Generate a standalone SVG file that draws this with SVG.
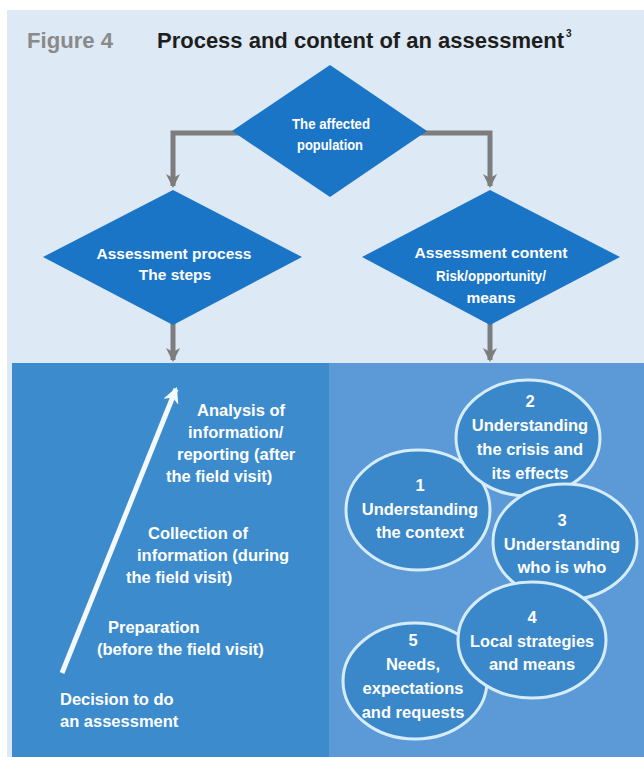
<svg xmlns="http://www.w3.org/2000/svg" width="644" height="757" viewBox="0 0 644 757">
<defs>
<style>
.t{font-family:"Liberation Sans",Arial,sans-serif;font-weight:bold;fill:#ffffff}
.d{font-size:15.5px;text-anchor:middle}
.e{font-size:16.5px;text-anchor:middle}
.p{font-size:16.5px}
.dia{fill:#1b75c6}
.ell{fill:#3a87c9;stroke:#d6ecfb;stroke-width:3}
.con{fill:none;stroke:#7d7d7d;stroke-width:5}
</style>
<marker id="ah" viewBox="0 0 14 14" markerWidth="14" markerHeight="14" refX="12" refY="7" orient="auto" markerUnits="userSpaceOnUse">
<path d="M0,0 L14,7 L0,14 L4,7 z" fill="#7d7d7d"/>
</marker>
<marker id="wh" viewBox="0 0 14 14" markerWidth="16" markerHeight="16" refX="12" refY="7" orient="auto" markerUnits="userSpaceOnUse">
<path d="M0,0 L14,7 L0,14 L4,7 z" fill="#f4f9fd"/>
</marker>
</defs>
<rect x="0" y="0" width="644" height="757" fill="#ffffff"/>
<rect x="7" y="10" width="637" height="747" fill="#dde9f5"/>
<g id="title">
<text x="27" y="48" font-family="Liberation Sans, Arial, sans-serif" font-weight="bold" font-size="22" fill="#8a8a8a" textLength="86" lengthAdjust="spacingAndGlyphs">Figure 4</text>
<text x="157" y="48" font-family="Liberation Sans, Arial, sans-serif" font-weight="bold" font-size="22" fill="#1e1e1e" textLength="407" lengthAdjust="spacingAndGlyphs">Process and content of an assessment</text>
<text x="566" y="37" font-family="Liberation Sans, Arial, sans-serif" font-weight="bold" font-size="10" fill="#1e1e1e">3</text>
</g>
<g id="panel-left"><rect x="12" y="363" width="317" height="394" fill="#3b8bcd"/></g>
<g id="panel-right"><rect x="329" y="363" width="315" height="394" fill="#5b9ad7"/></g>
<g id="connectors">
<path class="con" d="M240,133 H173 V186" marker-end="url(#ah)"/>
<path class="con" d="M420,133 H490 V186" marker-end="url(#ah)"/>
<path class="con" d="M173,322 V360" marker-end="url(#ah)"/>
<path class="con" d="M490,322 V360" marker-end="url(#ah)"/>
<path d="M62,673 L176,389" fill="none" stroke="#f4f9fd" stroke-width="5" marker-end="url(#wh)"/>
</g>
<g id="node-population">
<polygon class="dia" points="330,65 427,131 330,197 232,131"/>
<text class="t d" x="331" y="129" font-size="14" textLength="78" lengthAdjust="spacingAndGlyphs">The affected</text>
<text class="t d" x="330" y="150" font-size="14" textLength="66" lengthAdjust="spacingAndGlyphs">population</text>
</g>
<g id="node-process">
<polygon class="dia" points="173,190 302,257 173,325 43,257"/>
<text class="t d" x="174" y="259" textLength="155" lengthAdjust="spacingAndGlyphs">Assessment process</text>
<text class="t d" x="175" y="280">The steps</text>
</g>
<g id="node-content">
<polygon class="dia" points="490,190 620,257 490,325 362,257"/>
<text class="t d" x="491" y="258" textLength="153" lengthAdjust="spacingAndGlyphs">Assessment content</text>
<text class="t d" x="491" y="281" textLength="110" lengthAdjust="spacingAndGlyphs">Risk/opportunity/</text>
<text class="t d" x="491" y="303">means</text>
</g>
<g id="steps">
<text class="t p" x="197" y="416">Analysis of</text>
<text class="t p" x="188" y="438">information/</text>
<text class="t p" x="177" y="460">reporting (after</text>
<text class="t p" x="166" y="482">the field visit)</text>
<text class="t p" x="148" y="539">Collection of</text>
<text class="t p" x="137" y="561">information (during</text>
<text class="t p" x="126" y="583">the field visit)</text>
<text class="t p" x="108" y="633">Preparation</text>
<text class="t p" x="97" y="655">(before the field visit)</text>
<text class="t p" x="60" y="705">Decision to do</text>
<text class="t p" x="60" y="727">an assessment</text>
</g>
<g id="node-5">
<ellipse class="ell" cx="415" cy="681" rx="72" ry="58"/>
<text class="t e" x="413" y="646">5</text>
<text class="t e" x="413" y="670">Needs,</text>
<text class="t e" x="413" y="694">expectations</text>
<text class="t e" x="413" y="718">and requests</text>
</g>
<g id="node-1">
<ellipse class="ell" cx="418" cy="510" rx="72" ry="60"/>
<text class="t e" x="420" y="491">1</text>
<text class="t e" x="420" y="515">Understanding</text>
<text class="t e" x="420" y="538">the context</text>
</g>
<g id="node-2">
<ellipse class="ell" cx="528" cy="438" rx="72" ry="58"/>
<text class="t e" x="530" y="407">2</text>
<text class="t e" x="530" y="431">Understanding</text>
<text class="t e" x="530" y="455">the crisis and</text>
<text class="t e" x="530" y="479">its effects</text>
</g>
<g id="node-3">
<ellipse class="ell" cx="565" cy="542" rx="72" ry="58"/>
<text class="t e" x="562" y="526">3</text>
<text class="t e" x="562" y="550">Understanding</text>
<text class="t e" x="562" y="573">who is who</text>
</g>
<g id="node-4">
<ellipse class="ell" cx="532" cy="640" rx="74" ry="58"/>
<text class="t e" x="532" y="623">4</text>
<text class="t e" x="532" y="647" textLength="124" lengthAdjust="spacingAndGlyphs">Local strategies</text>
<text class="t e" x="532" y="670">and means</text>
</g>
</svg>
